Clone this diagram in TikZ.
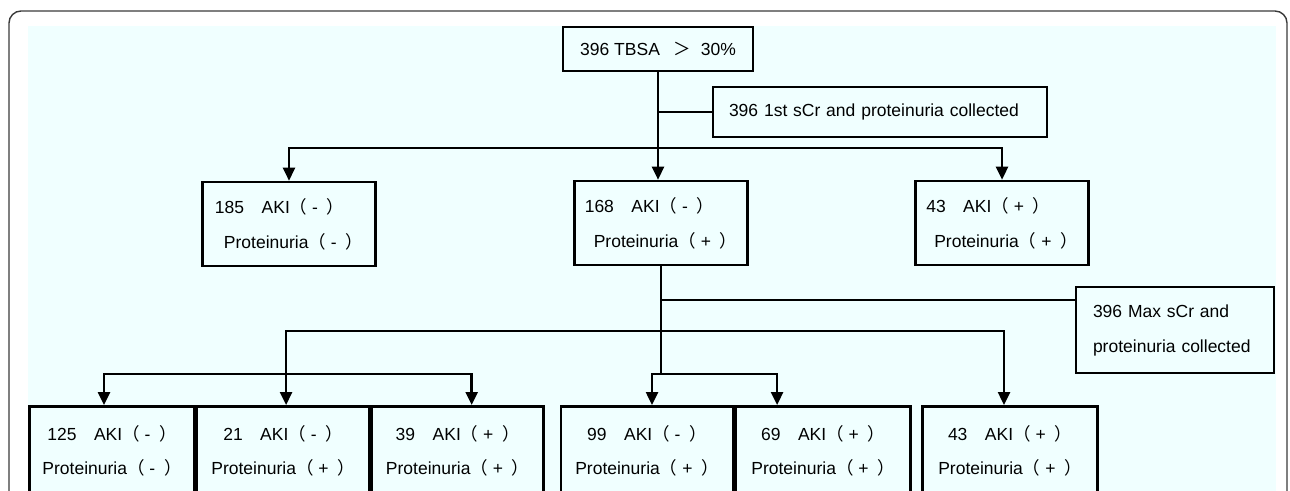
\documentclass[tikz,border=0pt]{standalone}
\usepackage{fontspec}
\setmainfont{Liberation Sans}
\newfontfamily\cjk{Noto Sans CJK SC}
\usepackage{xcolor}
\definecolor{panelbg}{HTML}{F0FFFF}
\definecolor{framegray}{HTML}{3A3A3A}
\usepackage{tikz}
\usetikzlibrary{arrows.meta, positioning}
\newcommand{\pmsign}[1]{{\cjk （}\ #1\enspace{\cjk ）}}

\begin{document}
\begin{tikzpicture}[
      %% Pixel-like units, y running downwards
      x=1pt, y=-1pt,
      %% Common look of every framed box
      base/.style={draw=black, line width=2.6pt, inner sep=0pt,
                   font=\fontsize{17.5}{35}\selectfont},
      topbox/.style={base, minimum width=190pt, minimum height=44pt},
      %% Second-row groups (lines flush left, second line indented)
      upper/.style={base, align=left, minimum width=173pt,
                    minimum height=84pt},
      %% Side notes hanging off the trunk lines
      note/.style={base, align=left, inner xsep=16pt},
      %% Bottom-row groups (cut off by the page edge)
      lower/.style={base, align=center, minimum width=172pt,
                    minimum height=90pt, anchor=north,
                    font=\fontsize{17.5}{34}\selectfont},
      link/.style={line width=2.5pt},
      arr/.style={link, -{Triangle[length=13pt, width=12pt]}},
    ]

    %% ── Panel ───────────────────────────────────────────────────────────────
    \useasboundingbox (0,0) rectangle (1290,490);
    \clip (0,0) rectangle (1290,490);
    \draw[framegray, line width=1.4pt, rounded corners=12pt]
      (9,11) rectangle (1287,530);
    \fill[panelbg] (28,26) rectangle (1276,500);

    %% ── Top and first split ─────────────────────────────────────────────────
    \node[topbox] (tbsa) at (658,49)
      {396 TBSA\enspace\ {\cjk ＞}\ \ 30\%};

    \node[note, text width=302pt, minimum height=50pt] (first) at (880,112)
      {396 1st sCr and proteinuria collected};

    \node[upper] (b185) at (289,224)
      {185\quad AKI\pmsign{-}\\\hspace*{9pt}Proteinuria\pmsign{-}};
    \node[upper] (b168) at (661,223)
      {168\quad AKI\pmsign{-}\\\hspace*{9pt}Proteinuria\pmsign{+}};
    \node[upper] (b43)  at (1002,223)
      {43\quad AKI\pmsign{+}\\\hspace*{8pt}Proteinuria\pmsign{+}};

    %% ── Second split ────────────────────────────────────────────────────────
    \node[note, text width=164pt, inner xsep=17pt, minimum height=86pt]
      (maxcr) at (1175,330)
      {396 Max sCr and\\proteinuria collected};

    \node[lower, minimum width=165pt] (b125) at (112,405)
      {125\quad AKI\pmsign{-}\\Proteinuria\pmsign{-}};
    \node[lower, right=0pt of b125] (b21)
      {21\quad AKI\pmsign{-}\\Proteinuria\pmsign{+}};
    \node[lower, right=0pt of b21]  (b39)
      {39\quad AKI\pmsign{+}\\Proteinuria\pmsign{+}};

    \node[lower] (b99) at (647,405)
      {99\quad AKI\pmsign{-}\\Proteinuria\pmsign{+}};
    \node[lower, minimum width=175pt, right=0pt of b99] (b69)
      {69\quad AKI\pmsign{+}\\Proteinuria\pmsign{+}};

    \node[lower, minimum width=175pt] (b43low) at (1010,405)
      {43\quad AKI\pmsign{+}\\Proteinuria\pmsign{+}};

    %% ── Connectors ──────────────────────────────────────────────────────────
    \coordinate (fork1) at (658,148);
    \coordinate (tap2)  at (661,300);
    \coordinate (fork2) at (661,331);
    \coordinate (fork3) at (661,374);

    %% trunk from the top box, with the note tapped off
    \draw[arr]  (tbsa.south) -- (tbsa.south |- b168.north);
    \draw[link] (tbsa.south |- first.west) -- (first.west);
    \draw[arr]  (fork1) -| (b185.north);
    \draw[arr]  (fork1) -| (b43.north);

    %% trunk below the middle box
    \draw[link] (b168.south) -- (fork3);
    \draw[link] (tap2) -- (tap2 -| maxcr.west);
    \draw[arr]  (fork2) -| ([xshift=3pt]b21.north);
    \draw[arr]  (fork2) -| ([xshift=-6pt]b43low.north);

    %% left group hangs off the 21-branch
    \draw[arr]  ([xshift=3pt]b21.north |- fork3) -| ([xshift=-8pt]b125.north);
    \draw[arr]  ([xshift=3pt]b21.north |- fork3) -| ([xshift=14pt]b39.north);

    %% middle pair
    \draw[arr]  (fork3) -| ([xshift=5pt]b99.north);
    \draw[arr]  (fork3) -| ([xshift=-46pt]b69.north);
  \end{tikzpicture}
\end{document}
